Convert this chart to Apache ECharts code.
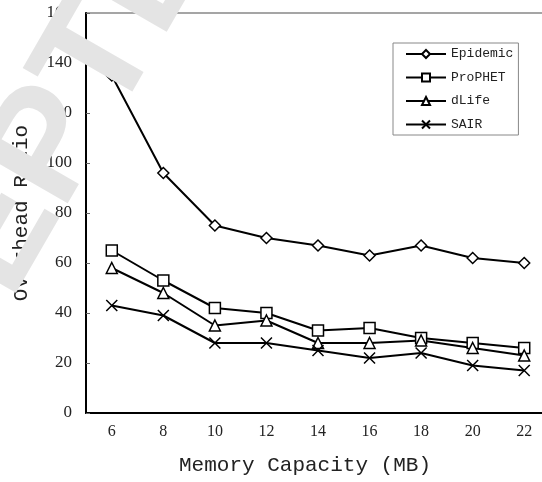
<!DOCTYPE html>
<html>
<head>
<meta charset="utf-8">
<script src="https://cdn.jsdelivr.net/npm/echarts@6/dist/echarts.min.js"></script>
<style>
  html, body { margin: 0; padding: 0; background: #fff; }
  #main { width: 542px; height: 482px; }
</style>
</head>
<body>
<div id="main"></div>
<script>
var memory = ['6', '8', '10', '12', '14', '16', '18', '20', '22'];
var epidemic = [135, 96, 75, 70, 67, 63, 67, 62, 60];
var prophet = [65, 53, 42, 40, 33, 34, 30, 28, 26];
var dlife = [58, 48, 35, 37, 28, 28, 29, 26, 23];
var sair = [43, 39, 28, 28, 25, 22, 24, 19, 17];

var myChart = echarts.init(document.getElementById('main'));

var monoFont = '"Liberation Mono", "DejaVu Sans Mono", monospace';
var serifFont = '"Liberation Serif", "DejaVu Serif", serif';
var crossPath = 'path://M0,0L10,10M10,0L0,10';

function makeSeries(name, data, symbol, size) {
    return {
        name: name,
        type: 'line',
        data: data,
        symbol: symbol,
        symbolSize: size,
        lineStyle: { color: '#000', width: 2 },
        itemStyle: { color: '#fff', borderColor: '#000', borderWidth: 1.5 },
        emphasis: { disabled: true },
        animation: false
    };
}

var option = {
    animation: false,
    grid: {
        left: 86,
        top: 13,
        width: 464,
        bottom: 69,
        containLabel: false,
        outerBoundsMode: 'none',
        show: true,
        borderColor: '#888',
        borderWidth: 1.5
    },
    legend: {
        orient: 'vertical',
        left: 393,
        top: 43,
        padding: [4.5, 5, 4, 12],
        itemWidth: 40,
        itemHeight: 10,
        itemGap: 10.5,
        borderColor: '#888',
        borderWidth: 1,
        textStyle: { fontFamily: monoFont, fontSize: 13, color: '#222' },
        data: ['Epidemic', 'ProPHET', 'dLife', 'SAIR']
    },
    xAxis: {
        type: 'category',
        data: memory,
        name: 'Memory Capacity (MB)',
        nameLocation: 'middle',
        nameGap: 42,
        nameTextStyle: { fontFamily: monoFont, fontSize: 21, color: '#222', padding: [0, 26, 0, 0] },
        axisLine: { lineStyle: { color: '#000', width: 2 } },
        axisTick: { inside: true, length: 4, lineStyle: { color: '#666' } },
        axisLabel: { margin: 11, fontFamily: serifFont, fontSize: 16, color: '#222' }
    },
    yAxis: {
        type: 'value',
        min: 0,
        max: 160,
        interval: 20,
        name: 'Overhead Ratio',
        nameLocation: 'middle',
        nameGap: 54,
        nameRotate: 90,
        nameTextStyle: { fontFamily: monoFont, fontSize: 21, color: '#222' },
        axisLine: { show: true, lineStyle: { color: '#000', width: 2 } },
        axisTick: { show: true, inside: true, length: 4, lineStyle: { color: '#666' } },
        axisLabel: { margin: 14, fontFamily: serifFont, fontSize: 17, color: '#222' },
        splitLine: { show: false }
    },
    series: [
        makeSeries('Epidemic', epidemic, 'diamond', 11),
        makeSeries('ProPHET', prophet, 'rect', 11),
        makeSeries('dLife', dlife, 'triangle', 11),
        makeSeries('SAIR', sair, crossPath, 11)
    ],
    graphic: [{
        // faint "ACCEPTED" watermark across the top-left corner
        type: 'text',
        z: 100,
        x: 19,
        y: 202,
        rotation: 60 * Math.PI / 180,
        style: {
            text: 'ACCEPTED',
            fontFamily: '"Liberation Sans", Arial, sans-serif',
            fontWeight: 'bold',
            fontSize: 155,
            fill: '#e4e4e4',
            align: 'center',
            verticalAlign: 'middle'
        }
    }]
};

myChart.setOption(option);
</script>
</body>
</html>
